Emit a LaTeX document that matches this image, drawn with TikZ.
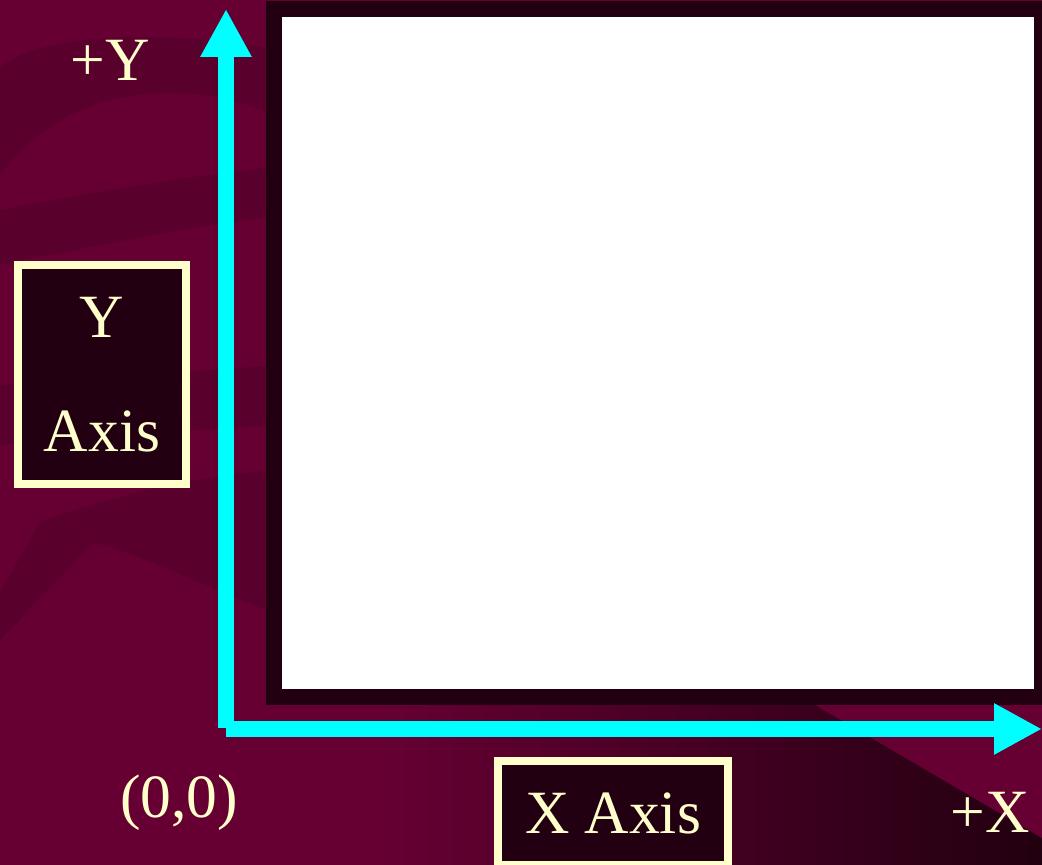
\documentclass[tikz,border=0pt]{standalone}
\usepackage{fontspec}
\setmainfont{Liberation Serif}
\usepackage{xcolor}
\definecolor{SLDbase}{HTML}{660033}
\definecolor{SLDband}{HTML}{5A002D}
\definecolor{SLDdeep}{HTML}{220010}
\definecolor{SLDframe}{HTML}{230011}
\definecolor{SLDcyan}{HTML}{00FFFF}
\definecolor{SLDcream}{HTML}{FFFFCC}
\usepackage{tikz}
\usetikzlibrary{arrows.meta, positioning}

\tikzset{
  axisarrow/.style={-{Triangle[length=0.96cm, width=0.96cm]}, SLDcyan, line width=0.32cm},
  axislabel/.style={text=SLDcream, inner sep=0pt, font=\fontsize{35}{65}\selectfont},
  labelbox/.style={axislabel, draw=SLDcream, fill=SLDframe, line width=0.16cm, align=center},
  screen/.style={draw=SLDframe, fill=white, line width=0.32cm}
}

\begin{document}
\begin{tikzpicture}
  \useasboundingbox (0,0) rectangle (20.84,17.3);
  \clip (0,0) rectangle (20.84,17.3);

  % slide background with its swirls
  \fill[SLDbase] (0,0) rectangle (20.84,17.3);
  \fill[SLDband] (0,15.96) .. controls (0.8,16.6) and (3,16.75) .. (5.6,16.3)
    -- (5.6,14.95) .. controls (4,15.7) and (1.5,15.8) .. (0,13.8) -- cycle;
  \fill[SLDband] (0,13.1) .. controls (2,13.5) and (4,13.8) .. (5.6,13.98)
    -- (5.6,12.98) .. controls (4,12.8) and (2,12.4) .. (0,12.0) -- cycle;
  \fill[SLDband] (0,9.6) .. controls (2,9.7) and (4,9.9) .. (5.6,10.0)
    -- (5.6,8.8) .. controls (4,8.7) and (2,8.6) .. (0,8.4) -- cycle;
  \fill[SLDband] (0,5.46) -- (0.8,6.86) .. controls (2,7.3) and (3.8,7.8) .. (5.6,7.9)
    -- (5.6,5.0) .. controls (4,5.6) and (2.6,6.3) .. (1.86,6.44) -- (0,4.5) -- cycle;

  % darker corner bottom right
  \fill[left color=SLDbase, right color=SLDdeep] (7.6,0) rectangle (20.84,3.3);
  \fill[SLDbase] (16.13,3.3) -- (20.84,3.3) -- (20.84,0.54) -- cycle;

  % the empty screen
  \node[screen, minimum width=15.36cm, minimum height=13.76cm] (screen) at (13.16,10.24) {};

  % axes
  \coordinate (yfoot) at (4.52,2.74);
  \coordinate (ytip) at (4.52,17.12);
  \coordinate (xfoot) at (4.52,2.72);
  \coordinate (xtip) at (20.84,2.72);
  \draw[axisarrow] (yfoot) -- (ytip);
  \draw[axisarrow] (xfoot) -- (xtip);

  % labels
  \node[axislabel, anchor=base] (plusy) at (2.21,15.68) {+Y};
  \node[axislabel, anchor=base] (origin) at (3.58,0.94) {(0,0)};
  \node[axislabel, anchor=base] (plusx) at (19.81,0.64) {+X};

  \node[labelbox, minimum width=3.36cm, minimum height=4.38cm] (yaxisbox) at (2.04,9.81) {Y\\Axis};
  \node[labelbox, minimum width=4.6cm, minimum height=2.08cm] (xaxisbox) at (12.26,1.04) {X Axis};
\end{tikzpicture}
\end{document}
